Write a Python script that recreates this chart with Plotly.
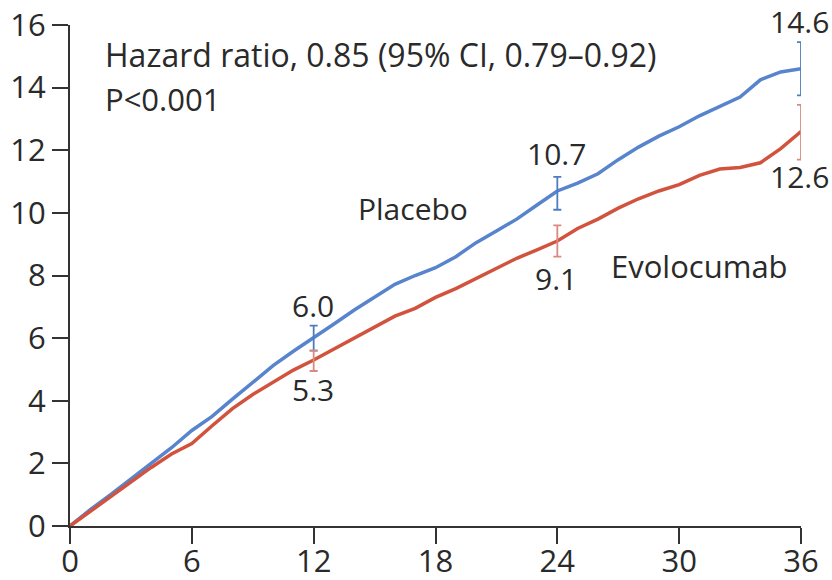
import plotly.graph_objects as go

# Cumulative incidence (%) by month of follow-up
months = list(range(0, 37))
placebo = [0.0, 0.52, 1.0, 1.5, 1.97, 2.5, 3.05, 3.5, 4.05, 4.6, 5.12, 5.58, 6.0,
           6.45, 6.9, 7.3, 7.72, 8.0, 8.25, 8.6, 9.05, 9.42, 9.8, 10.25, 10.7,
           10.95, 11.25, 11.7, 12.1, 12.45, 12.75, 13.1, 13.4, 13.7, 14.25, 14.5, 14.6]
evolocumab = [0.0, 0.47, 0.95, 1.42, 1.87, 2.3, 2.63, 3.2, 3.75, 4.2, 4.6, 4.98, 5.3,
              5.65, 6.0, 6.35, 6.7, 6.95, 7.3, 7.58, 7.9, 8.24, 8.55, 8.82, 9.1,
              9.5, 9.8, 10.15, 10.45, 10.7, 10.9, 11.2, 11.4, 11.45, 11.6, 12.05, 12.6]

# Milestone estimates with 95% confidence limits
milestone_months = [12, 24, 36]
placebo_est = [6.0, 10.7, 14.6]
placebo_lo = [5.6, 10.1, 13.75]
placebo_hi = [6.4, 11.15, 15.45]
evolocumab_est = [5.3, 9.1, 12.6]
evolocumab_lo = [4.95, 8.6, 11.7]
evolocumab_hi = [5.6, 9.6, 13.45]

x_ticks = [0, 6, 12, 18, 24, 30, 36]
y_ticks = [0, 2, 4, 6, 8, 10, 12, 14, 16]

Y_MAX = 16
BLUE = "#5784cc"
RED = "#d2533d"
BLUE_BAR = "#4f7cc0"
RED_BAR = "#d98a7f"
TEXT = "#2a2a2a"
FONT = "Open Sans"
FS = 30

fig = go.Figure()

fig.add_trace(go.Scatter(x=months, y=placebo, mode="lines",
                         line=dict(color=BLUE, width=3.5), cliponaxis=False,
                         showlegend=False, hoverinfo="skip"))
fig.add_trace(go.Scatter(x=months, y=evolocumab, mode="lines",
                         line=dict(color=RED, width=3.5), cliponaxis=False,
                         showlegend=False, hoverinfo="skip"))

# Confidence interval bars
fig.add_trace(go.Scatter(
    x=milestone_months, y=placebo_est, mode="markers",
    marker=dict(size=1, color=BLUE_BAR, opacity=0),
    error_y=dict(type="data", symmetric=False,
                 array=[h - e for h, e in zip(placebo_hi, placebo_est)],
                 arrayminus=[e - l for l, e in zip(placebo_lo, placebo_est)],
                 color=BLUE_BAR, thickness=1.8, width=4),
    cliponaxis=False, showlegend=False, hoverinfo="skip"))
fig.add_trace(go.Scatter(
    x=milestone_months, y=evolocumab_est, mode="markers",
    marker=dict(size=1, color=RED_BAR, opacity=0),
    error_y=dict(type="data", symmetric=False,
                 array=[h - e for h, e in zip(evolocumab_hi, evolocumab_est)],
                 arrayminus=[e - l for l, e in zip(evolocumab_lo, evolocumab_est)],
                 color=RED_BAR, thickness=1.8, width=4),
    cliponaxis=False, showlegend=False, hoverinfo="skip"))

# Milestone value labels; vertical placement in paper units so the
# top label may sit just above the axis range
placebo_offsets = [1.05, 1.2, 1.52]
evolocumab_offsets = [-0.95, -1.2, -1.45]
for m, v, off in zip(milestone_months, placebo_est, placebo_offsets):
    fig.add_annotation(x=m - 0.05, xref="x", y=(v + off) / Y_MAX, yref="paper",
                       text=f"{v:.1f}", showarrow=False,
                       xanchor="center", yanchor="middle",
                       font=dict(family=FONT, size=FS, color=TEXT))
for m, v, off in zip(milestone_months, evolocumab_est, evolocumab_offsets):
    fig.add_annotation(x=m - 0.05, xref="x", y=(v + off) / Y_MAX, yref="paper",
                       text=f"{v:.1f}", showarrow=False,
                       xanchor="center", yanchor="middle",
                       font=dict(family=FONT, size=FS, color=TEXT))

# Series labels and statistics
fig.add_annotation(x=16.9, y=10.15, text="Placebo", showarrow=False,
                   xanchor="center", yanchor="middle",
                   font=dict(family=FONT, size=FS, color=TEXT))
fig.add_annotation(x=31.0, y=8.3, text="Evolocumab", showarrow=False,
                   xanchor="center", yanchor="middle",
                   font=dict(family=FONT, size=31, color=TEXT))
fig.add_annotation(x=1.62, y=15.05, text="Hazard ratio, 0.85 (95% CI, 0.79–0.92)",
                   showarrow=False, xanchor="left", yanchor="middle",
                   font=dict(family=FONT, size=32, color=TEXT))
fig.add_annotation(x=1.62, y=13.65, text="P<0.001",
                   showarrow=False, xanchor="left", yanchor="middle",
                   font=dict(family=FONT, size=31, color=TEXT))

axis_common = dict(showgrid=False, zeroline=False, showline=True,
                   linecolor="#333333", linewidth=2, ticks="outside",
                   ticklen=16, tickwidth=2, tickcolor="#333333",
                   automargin=False,
                   tickfont=dict(family=FONT, size=31, color=TEXT))

fig.update_layout(
    width=832, height=580,
    margin=dict(l=70, r=31, t=25, b=54),
    paper_bgcolor="white", plot_bgcolor="white",
    xaxis=dict(range=[0, 36], tickvals=x_ticks, ticklabelstandoff=-9, **axis_common),
    yaxis=dict(range=[0, Y_MAX], tickvals=y_ticks, **axis_common),
)

fig.write_html("out.html")
